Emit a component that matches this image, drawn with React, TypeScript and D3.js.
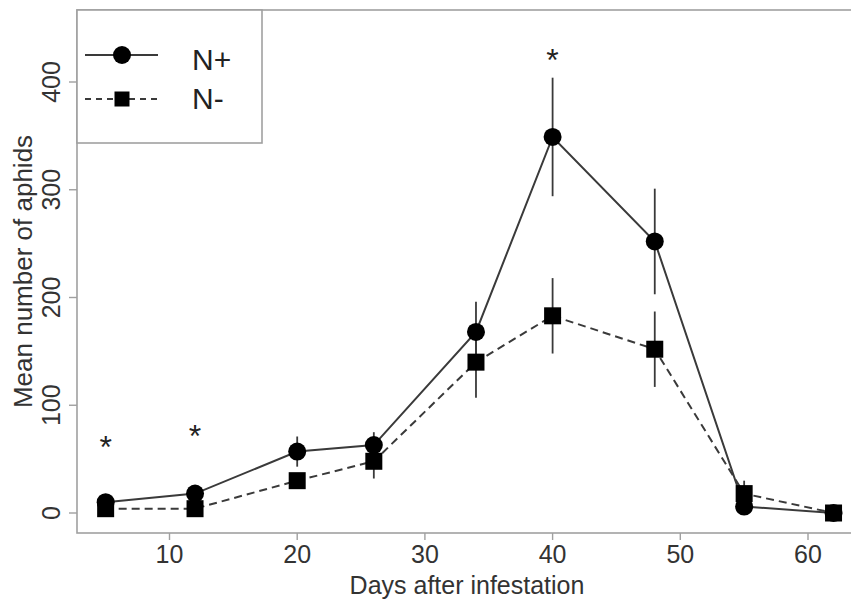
import React from "react";
import * as d3 from "d3";

const days = [5, 12, 20, 26, 34, 40, 48, 55, 62];
const nPlus = [10, 18, 57, 63, 168, 349, 252, 6, 0];
const nPlusErr = [3, 4, 14, 12, 28, 55, 49, 4, 0];
const nMinus = [4, 4, 30, 48, 140, 183, 152, 18, 0];
const nMinusErr = [2, 2, 5, 16, 33, 35, 35, 12, 0];
const starDays = [5, 12, 40];
const starValues = [68, 78, 427];
const xTicks = [10, 20, 30, 40, 50, 60];
const yTicks = [0, 100, 200, 300, 400];
const seriesNames = ["N+", "N-"];

const W = 851;
const H = 600;
const FONT = "'Liberation Sans', Arial, Helvetica, sans-serif";

export default function App() {
  const x = d3.scaleLinear().domain([10, 60]).range([169.5, 808]);
  const y = d3.scaleLinear().domain([0, 400]).range([513, 82]);
  const box = { left: 77, top: 10, right: 857, bottom: 533 };

  const pts = (vals: number[]) => days.map((d, i) => [d, vals[i]] as [number, number]);
  const line = d3
    .line<[number, number]>()
    .x((d) => x(d[0]))
    .y((d) => y(d[1]));

  const lineColor = "#3a3a3a";
  const axisColor = "#a0a0a0";
  const textColor = "#333";

  return (
    <svg
      width={W}
      height={H}
      style={{ position: "absolute", left: 0, top: 0, background: "#fff" }}
      fontFamily={FONT}
    >
      <rect x={0} y={0} width={W} height={H} fill="#fff" />
      {/* plot box */}
      <rect
        x={box.left}
        y={box.top}
        width={box.right - box.left}
        height={box.bottom - box.top}
        fill="none"
        stroke={axisColor}
        strokeWidth={1.6}
      />
      {/* x ticks */}
      {xTicks.map((t) => (
        <g key={"xt" + t}>
          <line x1={x(t)} x2={x(t)} y1={box.bottom} y2={box.bottom + 7} stroke={axisColor} strokeWidth={1.4} />
          <text x={x(t)} y={563} textAnchor="middle" fontSize={25} fill={textColor}>
            {t}
          </text>
        </g>
      ))}
      {/* y ticks */}
      {yTicks.map((t) => (
        <g key={"yt" + t}>
          <line x1={box.left - 8} x2={box.left} y1={y(t)} y2={y(t)} stroke={axisColor} strokeWidth={1.4} />
          <text
            transform={`translate(60,${y(t)}) rotate(-90)`}
            textAnchor="middle"
            fontSize={25}
            fill={textColor}
          >
            {t}
          </text>
        </g>
      ))}
      {/* axis labels */}
      <text x={467} y={594} textAnchor="middle" fontSize={25} fill={textColor}>
        Days after infestation
      </text>
      <text
        transform={`translate(32,${(box.top + box.bottom) / 2}) rotate(-90)`}
        textAnchor="middle"
        fontSize={26}
        fill={textColor}
      >
        Mean number of aphids
      </text>

      {/* error bars */}
      {days.map((d, i) => (
        <g key={"eb" + d}>
          {nPlusErr[i] > 0 && (
            <line
              x1={x(d)}
              x2={x(d)}
              y1={y(nPlus[i] - nPlusErr[i])}
              y2={y(nPlus[i] + nPlusErr[i])}
              stroke={lineColor}
              strokeWidth={1.8}
            />
          )}
          {nMinusErr[i] > 0 && (
            <line
              x1={x(d)}
              x2={x(d)}
              y1={y(nMinus[i] - nMinusErr[i])}
              y2={y(nMinus[i] + nMinusErr[i])}
              stroke={lineColor}
              strokeWidth={1.8}
            />
          )}
        </g>
      ))}

      {/* lines */}
      <path d={line(pts(nMinus)) || ""} fill="none" stroke={lineColor} strokeWidth={2} strokeDasharray="8,5" />
      <path d={line(pts(nPlus)) || ""} fill="none" stroke={lineColor} strokeWidth={2} />

      {/* markers */}
      {days.map((d, i) => (
        <rect key={"sq" + d} x={x(d) - 8.5} y={y(nMinus[i]) - 8.5} width={17} height={17} fill="#000" />
      ))}
      {days.map((d, i) => (
        <circle key={"c" + d} cx={x(d)} cy={y(nPlus[i])} r={9} fill="#000" />
      ))}

      {/* significance stars */}
      {starDays.map((d, i) => (
        <text
          key={"st" + d}
          x={x(d)}
          y={y(starValues[i]) + 18}
          textAnchor="middle"
          fontSize={32}
          fill="#222"
        >
          *
        </text>
      ))}

      {/* legend */}
      <rect x={box.left} y={box.top} width={185} height={133} fill="#fff" stroke={axisColor} strokeWidth={1.6} />
      <line x1={85} x2={158} y1={55} y2={55} stroke={lineColor} strokeWidth={2} />
      <circle cx={122} cy={55} r={9} fill="#000" />
      <text x={192} y={70} fontSize={30} fill="#222">
        {seriesNames[0]}
      </text>
      <line x1={85} x2={158} y1={99} y2={99} stroke={lineColor} strokeWidth={2} strokeDasharray="6,5" />
      <rect x={114.5} y={91.5} width={15} height={15} fill="#000" />
      <text x={192} y={109} fontSize={30} fill="#222">
        {seriesNames[1]}
      </text>
    </svg>
  );
}
